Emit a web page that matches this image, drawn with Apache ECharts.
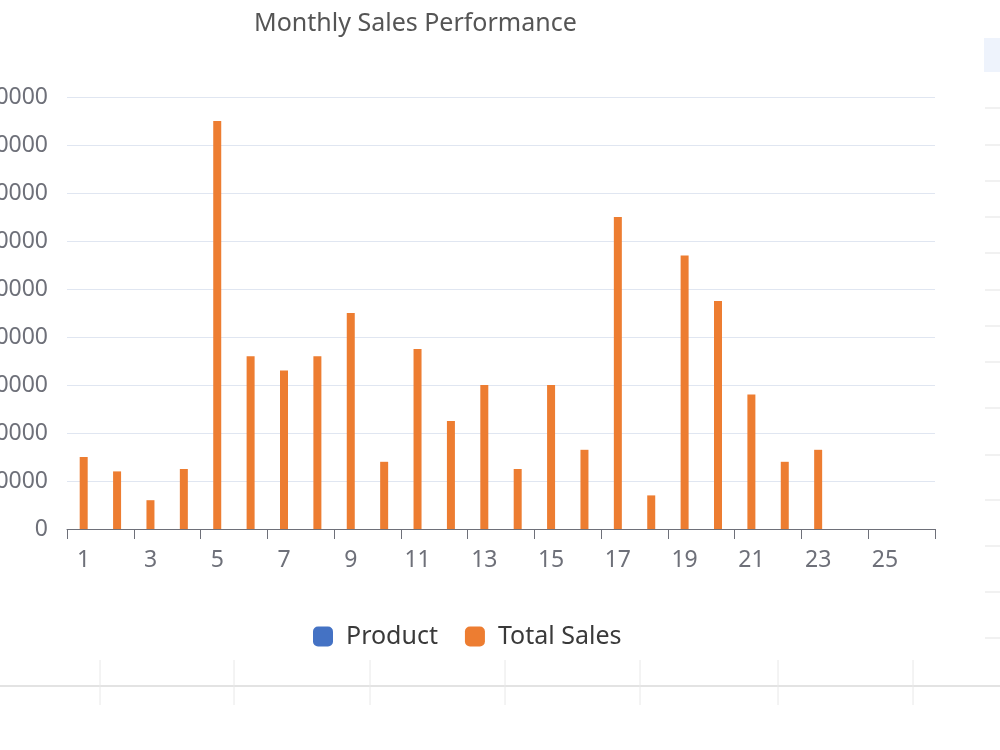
<!DOCTYPE html>
<html>
<head>
<meta charset="utf-8">
<title>Monthly Sales Performance</title>
<script src="https://cdn.jsdelivr.net/npm/echarts@6/dist/echarts.min.js"></script>
<style>
  html, body { margin: 0; padding: 0; background: #fff; }
  #main { width: 1000px; height: 750px; }
</style>
</head>
<body>
<div id="main"></div>
<script>
// categories 1..26 (24-26 have no sales yet)
const categories = ["1", "2", "3", "4", "5", "6", "7", "8", "9", "10", "11", "12", "13",
  "14", "15", "16", "17", "18", "19", "20", "21", "22", "23", "24", "25", "26"];
const productValues = [];
const totalSales = [15000, 12000, 6000, 12500, 85000, 36000, 33000, 36000, 45000, 14000,
  37500, 22500, 30000, 12500, 30000, 16500, 65000, 7000, 57000, 47500, 28000, 14000, 16500];
const yTicks = [0, 10000, 20000, 30000, 40000, 50000, 60000, 70000, 80000, 90000];

const font = "Noto Sans";
const chart = echarts.init(document.getElementById("main"));

chart.setOption({
  animation: false,
  title: {
    text: "Monthly Sales Performance",
    left: 249,
    top: 6,
    textStyle: { fontFamily: font, fontSize: 25, fontWeight: "normal", color: "#555" },
  },
  legend: {
    data: ["Product", "Total Sales"],
    left: 313,
    top: 624,
    padding: 0,
    icon: "roundRect",
    itemWidth: 20,
    itemHeight: 20,
    itemGap: 27,
    textStyle: { fontFamily: font, fontSize: 25, color: "#3a3a3a", padding: [0, 0, 0, 8] },
  },
  grid: { left: 67, right: 65, top: 97, bottom: 221, outerBoundsMode: "none", containLabel: false },
  xAxis: {
    type: "category",
    data: categories,
    axisLine: { show: true, lineStyle: { color: "#6E7079" } },
    axisTick: { show: true, length: 10, lineStyle: { color: "#6E7079" } },
    axisLabel: { interval: 1, margin: 20, fontFamily: font, fontSize: 23, color: "#6E7079" },
  },
  yAxis: {
    type: "value",
    min: yTicks[0],
    max: yTicks[yTicks.length - 1],
    interval: 10000,
    axisLabel: {
      margin: 19, fontFamily: font, fontSize: 23, color: "#6E7079",
      formatter: v => String(v),
    },
    splitLine: { lineStyle: { color: "#E0E6F1" } },
  },
  series: [
    {
      name: "Product",
      type: "bar",
      data: productValues,
      barWidth: 8,
      barGap: "-100%",
      itemStyle: { color: "#4472C4" },
    },
    {
      name: "Total Sales",
      type: "bar",
      data: totalSales,
      barWidth: 8,
      itemStyle: { color: "#ED7D31" },
    },
  ],
  // faint bits of the neighbouring page panels in the screenshot
  graphic: [
    { type: "rect", shape: { x: 984, y: 38, width: 16, height: 34 }, style: { fill: "#EEF3FC" } },
    { type: "line", shape: { x1: 0, y1: 686, x2: 1000, y2: 686 }, style: { stroke: "#E3E3E3", lineWidth: 2 } },
    ...[100, 234, 370, 505, 640, 778, 913].map(x => ({
      type: "line", shape: { x1: x, y1: 660, x2: x, y2: 705 }, style: { stroke: "#E8E8E8", lineWidth: 1 },
    })),
    ...[108, 145, 181, 217, 253, 290, 326, 362, 408, 455, 500, 546, 592, 638].map(y => ({
      type: "line", shape: { x1: 985, y1: y, x2: 1000, y2: y }, style: { stroke: "#E3E3E3", lineWidth: 1 },
    })),
  ],
});
</script>
</body>
</html>
